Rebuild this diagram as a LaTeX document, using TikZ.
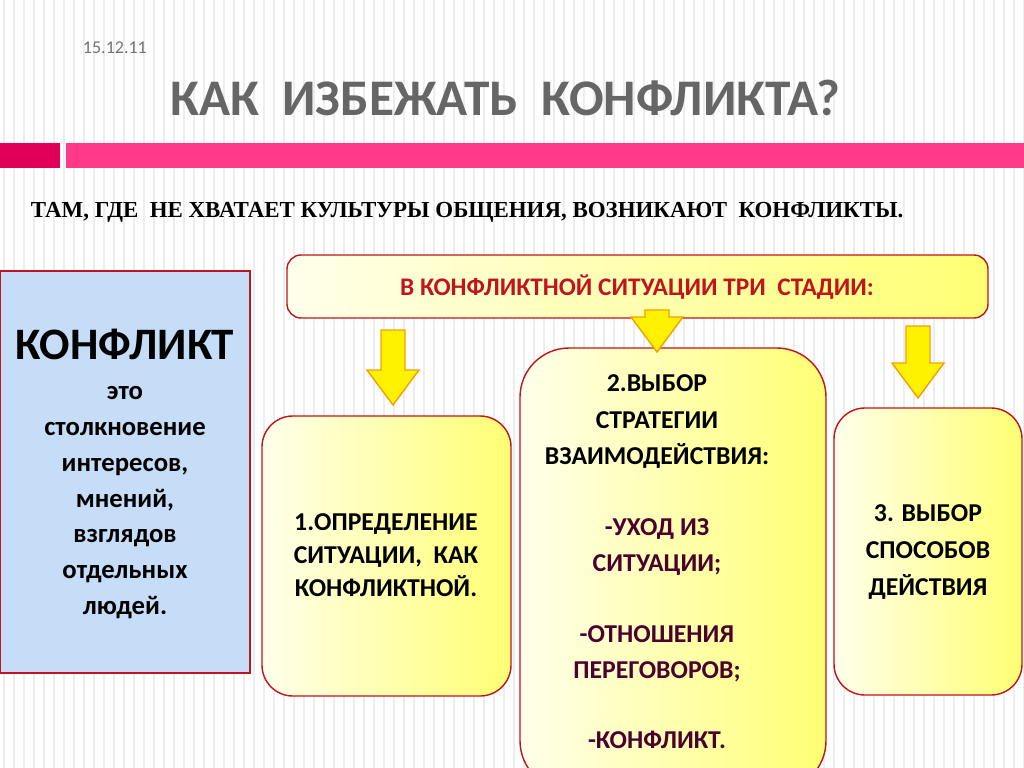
\documentclass[tikz,border=0pt]{standalone}
\usepackage{fontspec}
\setmainfont{Carlito}
\newfontfamily\serifbold{Liberation Serif}
\usetikzlibrary{positioning}
\definecolor{darkpink}{HTML}{E0005A}
\definecolor{lightpink}{HTML}{FF3A8A}
\definecolor{boxred}{HTML}{C0141E}
\definecolor{maroon}{HTML}{4B0030}
\definecolor{skyfill}{HTML}{C6DDF7}
\definecolor{arrowfill}{HTML}{FFF200}
\definecolor{arroworange}{HTML}{F0A000}
\tikzset{
  stage/.style={draw=boxred, line width=1pt, rounded corners=22pt,
    left color=yellow!8, right color=yellow!55},
  downarrow/.style={draw=arroworange, line width=1pt, fill=arrowfill}
}
\newcommand{\blockarrow}[3]{% center x, top y, bottom y
  \draw[downarrow] (#1-12,#2) -- (#1+12,#2) -- (#1+12,#3-35) -- (#1+26,#3-35)
    -- (#1,#3) -- (#1-26,#3-35) -- (#1-12,#3-35) -- cycle;}

\begin{document}
\begin{tikzpicture}[x=0.025cm,y=-0.025cm]
  \useasboundingbox (0,0) rectangle (1024,768);
  % background stripes
  \fill[white] (0,0) rectangle (1024,768);
  \foreach \i in {0,10,...,1020}
    \draw[black!7, line width=1.2pt] (\i+4,0) -- (\i+4,768);
  % header
  \node[anchor=west, text=black!55, font=\fontsize{12.8}{14}\selectfont] (date) at (78,48) {15.12.11};
  \node[text=black!60, font=\bfseries\fontsize{36.5}{40}\selectfont] (title) at (505,98) {КАК\ \ ИЗБЕЖАТЬ\ \ КОНФЛИКТА?};
  \fill[darkpink] (0,143) rectangle (60,168);
  \fill[lightpink] (66,143) rectangle (1024,168);
  \node[anchor=west, font=\serifbold\bfseries\fontsize{16.3}{18}\selectfont] (motto) at (26,212)
    {ТАМ, ГДЕ\ \ НЕ ХВАТАЕТ КУЛЬТУРЫ ОБЩЕНИЯ, ВОЗНИКАЮТ\ \ КОНФЛИКТЫ.};
  % definition
  \draw[boxred, line width=1pt, fill=skyfill] (0,271) rectangle (250,673);
  \node[align=center, font=\bfseries\fontsize{19}{25.5}\selectfont] (def) at (125,474)
    {{\fontsize{32}{30}\selectfont КОНФЛИКТ}\\[3pt]это\\столкновение\\интересов,\\мнений,\\взглядов\\отдельных\\людей.};
  % stages
  \draw[stage, rounded corners=10pt] (287,255) rectangle (988,318);
  \node[text=boxred, font=\bfseries\fontsize{18}{20}\selectfont] (head) at (637,287) {В КОНФЛИКТНОЙ СИТУАЦИИ ТРИ\ \ СТАДИИ:};
  \draw[stage] (262,416) rectangle (511,696);
  \node[align=center, font=\bfseries\fontsize{18.3}{23.5}\selectfont] (one) at (386,555)
    {1.ОПРЕДЕЛЕНИЕ\\СИТУАЦИИ,\ \ КАК\\КОНФЛИКТНОЙ.};
  \draw[stage, rounded corners=35pt] (520,348) rectangle (826,790);
  \node[align=center, font=\bfseries\fontsize{18.3}{26}\selectfont] (two) at (657,562)
    {2.ВЫБОР\\СТРАТЕГИИ\\ВЗАИМОДЕЙСТВИЯ:\\[24pt]
     \textcolor{maroon}{-УХОД ИЗ}\\\textcolor{maroon}{СИТУАЦИИ;}\\[24pt]
     \textcolor{maroon}{-ОТНОШЕНИЯ}\\\textcolor{maroon}{ПЕРЕГОВОРОВ;}\\[24pt]
     \textcolor{maroon}{-КОНФЛИКТ.}};
  \draw[stage] (834,408) rectangle (1022,695);
  \node[align=center, font=\bfseries\fontsize{18.3}{26}\selectfont] (three) at (928,552)
    {3. ВЫБОР\\СПОСОБОВ\\ДЕЙСТВИЯ};
  % arrows
  \blockarrow{393}{330}{405}
  \blockarrow{657}{310}{352}
  \blockarrow{918}{326}{398}
\end{tikzpicture}
\end{document}
